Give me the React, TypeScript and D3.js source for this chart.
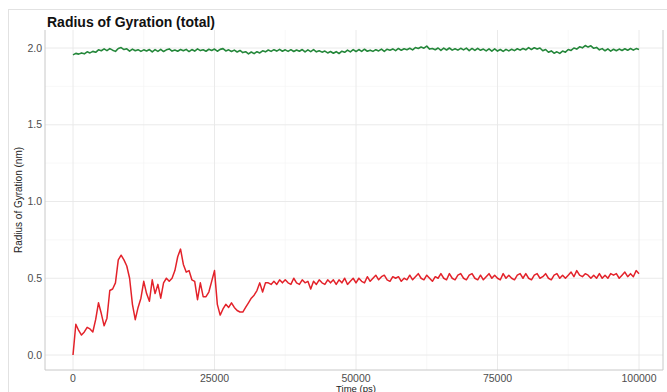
import * as d3 from "d3";

// sampling interval of both traces (ps)
const STEP_PS = 500;

// Rg of the red trace (nm), one value every STEP_PS
const redRg = [
  0.00, 0.20, 0.16, 0.13, 0.15, 0.18, 0.17, 0.15, 0.23, 0.34,
  0.27, 0.19, 0.24, 0.42, 0.43, 0.47, 0.62, 0.65, 0.62, 0.58,
  0.50, 0.33, 0.23, 0.31, 0.37, 0.48, 0.40, 0.35, 0.49, 0.40,
  0.46, 0.37, 0.47, 0.50, 0.48, 0.50, 0.55, 0.64, 0.69, 0.59,
  0.54, 0.55, 0.49, 0.48, 0.36, 0.47, 0.38, 0.38, 0.41, 0.48,
  0.55, 0.33, 0.26, 0.30, 0.33, 0.31, 0.34, 0.31, 0.29, 0.28,
  0.28, 0.31, 0.34, 0.37, 0.39, 0.42, 0.47, 0.41, 0.47, 0.47,
  0.46, 0.48, 0.46, 0.49, 0.47, 0.49, 0.47, 0.46, 0.50, 0.47,
  0.46, 0.49, 0.47, 0.48, 0.43, 0.48, 0.46, 0.49, 0.47, 0.46,
  0.49, 0.47, 0.49, 0.46, 0.49, 0.47, 0.50, 0.46, 0.48, 0.50,
  0.47, 0.50, 0.48, 0.47, 0.51, 0.48, 0.50, 0.52, 0.49, 0.51,
  0.52, 0.49, 0.48, 0.51, 0.50, 0.51, 0.48, 0.50, 0.49, 0.52,
  0.49, 0.51, 0.53, 0.50, 0.49, 0.52, 0.50, 0.48, 0.51, 0.50,
  0.53, 0.50, 0.49, 0.53, 0.50, 0.49, 0.52, 0.53, 0.50, 0.49,
  0.52, 0.53, 0.50, 0.49, 0.52, 0.49, 0.51, 0.53, 0.50, 0.52,
  0.50, 0.49, 0.53, 0.50, 0.52, 0.50, 0.49, 0.52, 0.53, 0.50,
  0.53, 0.50, 0.49, 0.52, 0.53, 0.50, 0.51, 0.53, 0.50, 0.49,
  0.52, 0.53, 0.50, 0.52, 0.50, 0.52, 0.54, 0.51, 0.55, 0.52,
  0.51, 0.53, 0.52, 0.50, 0.52, 0.50, 0.53, 0.50, 0.52, 0.50,
  0.53, 0.52, 0.53, 0.50, 0.52, 0.54, 0.51, 0.53, 0.51, 0.55,
  0.53,
];

// Rg of the green trace (nm)
const greenRg = [
  1.955, 1.965, 1.960, 1.968, 1.962, 1.975, 1.968, 1.978, 1.972, 1.988,
  1.982, 1.994, 1.983, 1.996, 1.986, 1.978, 1.997, 2.003, 1.990, 1.995,
  1.980, 1.993, 1.982, 1.989, 1.978, 1.988, 1.980, 1.990, 1.975, 1.989,
  1.978, 1.991, 1.977, 1.988, 1.994, 1.980, 1.987, 1.979, 1.990, 1.982,
  1.991, 1.977, 1.990, 1.980, 1.994, 1.983, 1.989, 1.979, 1.992, 1.984,
  1.993, 1.979, 1.991, 1.996, 1.981, 1.988, 1.977, 1.986, 1.974, 1.984,
  1.970, 1.976, 1.962, 1.974, 1.963, 1.976, 1.968, 1.982, 1.975, 1.987,
  1.978, 1.989, 1.980, 1.991, 1.979, 1.988, 1.978, 1.989, 1.977, 1.987,
  1.979, 1.990, 1.975, 1.988, 1.976, 1.989, 1.975, 1.982, 1.973, 1.980,
  1.968, 1.977, 1.966, 1.976, 1.964, 1.979, 1.972, 1.986, 1.975, 1.989,
  1.977, 1.990, 1.978, 1.992, 1.979, 1.986, 1.978, 1.989, 1.981, 1.993,
  1.978, 1.992, 1.986, 1.994, 1.983, 1.997, 1.985, 1.995, 1.989, 1.998,
  1.988, 2.003, 1.997, 2.006, 1.999, 2.012, 1.993, 1.997, 1.989, 2.000,
  1.985, 1.999, 1.987, 2.000, 1.986, 1.995, 1.986, 1.998, 1.988, 1.999,
  1.983, 1.997, 1.984, 1.998, 1.985, 1.993, 1.981, 1.995, 1.980, 1.994,
  1.980, 1.990, 1.978, 1.991, 1.981, 1.992, 1.983, 1.995, 1.986, 1.997,
  1.988, 2.003, 1.990, 2.002, 1.993, 2.000, 1.982, 1.990, 1.972, 1.981,
  1.966, 1.975, 1.965, 1.980, 1.973, 1.990, 1.984, 2.000, 1.993, 2.008,
  2.001, 2.016, 2.006, 2.014, 1.998, 2.004, 1.988, 1.996, 1.982, 1.994,
  1.980, 1.992, 1.982, 1.993, 1.984, 1.995, 1.985, 1.997, 1.986, 1.996,
  1.990,
];

const xTicks = [0, 25000, 50000, 75000, 100000];
const xMinor = [12500, 37500, 62500, 87500];
const yTicks = [0, 0.5, 1.0, 1.5, 2.0];
const yMinor = [0.25, 0.75, 1.25, 1.75];

const W = 667;
const H = 392;
const panel = { left: 45, right: 663, top: 30, bottom: 370 };

export default function App() {
  const x = d3.scaleLinear().domain([0, 100000]).range([73, 639]);
  const y = d3.scaleLinear().domain([0, 2]).range([355, 48]);

  const line = d3
    .line<number>()
    .x((_, i) => x(i * STEP_PS))
    .y((d) => y(d));

  const font = "'Liberation Sans', Arial, Helvetica, sans-serif";

  return (
    <svg
      width={W}
      height={H}
      style={{ position: "absolute", left: 0, top: 0, background: "#fff" }}
      fontFamily={font}
    >
      <rect x={8.5} y={9.5} width={700} height={400} fill="none" stroke="#e2e2e2" />

      {/* grid */}
      {xMinor.map((t) => (
        <line key={"xm" + t} x1={x(t)} x2={x(t)} y1={panel.top} y2={panel.bottom} stroke="#f3f3f3" strokeWidth={0.6} />
      ))}
      {yMinor.map((v) => (
        <line key={"ym" + v} x1={panel.left} x2={panel.right} y1={y(v)} y2={y(v)} stroke="#f3f3f3" strokeWidth={0.6} />
      ))}
      {xTicks.map((t) => (
        <line key={"xg" + t} x1={x(t)} x2={x(t)} y1={panel.top} y2={panel.bottom} stroke="#e8e8e8" strokeWidth={0.9} />
      ))}
      {yTicks.map((v) => (
        <line key={"yg" + v} x1={panel.left} x2={panel.right} y1={y(v)} y2={y(v)} stroke="#e8e8e8" strokeWidth={0.9} />
      ))}

      <path d={line(greenRg) || ""} fill="none" stroke="#24873a" strokeWidth={1.6} strokeLinejoin="round" />
      <path d={line(redRg) || ""} fill="none" stroke="#e3222a" strokeWidth={1.5} strokeLinejoin="round" />

      {/* panel border */}
      <path
        d={`M${panel.left},${panel.top}V${panel.bottom}H${panel.right}V${panel.top}`}
        fill="none"
        stroke="#c8c8c8"
        strokeWidth={1}
      />

      {/* axis labels */}
      {yTicks.map((v) => (
        <text key={"yl" + v} x={42} y={y(v)} dy="0.35em" textAnchor="end" fontSize={10.5} fill="#4d4d4d">
          {d3.format(".1f")(v)}
        </text>
      ))}
      {xTicks.map((t) => (
        <text key={"xl" + t} x={x(t)} y={378} dy="0.35em" textAnchor="middle" fontSize={10.5} fill="#4d4d4d">
          {t}
        </text>
      ))}

      <text x={x(50000)} y={391.5} textAnchor="middle" fontSize={9.5} fill="#222">
        Time (ps)
      </text>
      <text
        transform={`translate(22,${(panel.top + panel.bottom) / 2}) rotate(-90)`}
        textAnchor="middle"
        fontSize={10}
        fill="#222"
      >
        Radius of Gyration (nm)
      </text>

      <text x={47} y={27} fontSize={14} fontWeight="bold" fill="#111">
        Radius of Gyration (total)
      </text>
    </svg>
  );
}
